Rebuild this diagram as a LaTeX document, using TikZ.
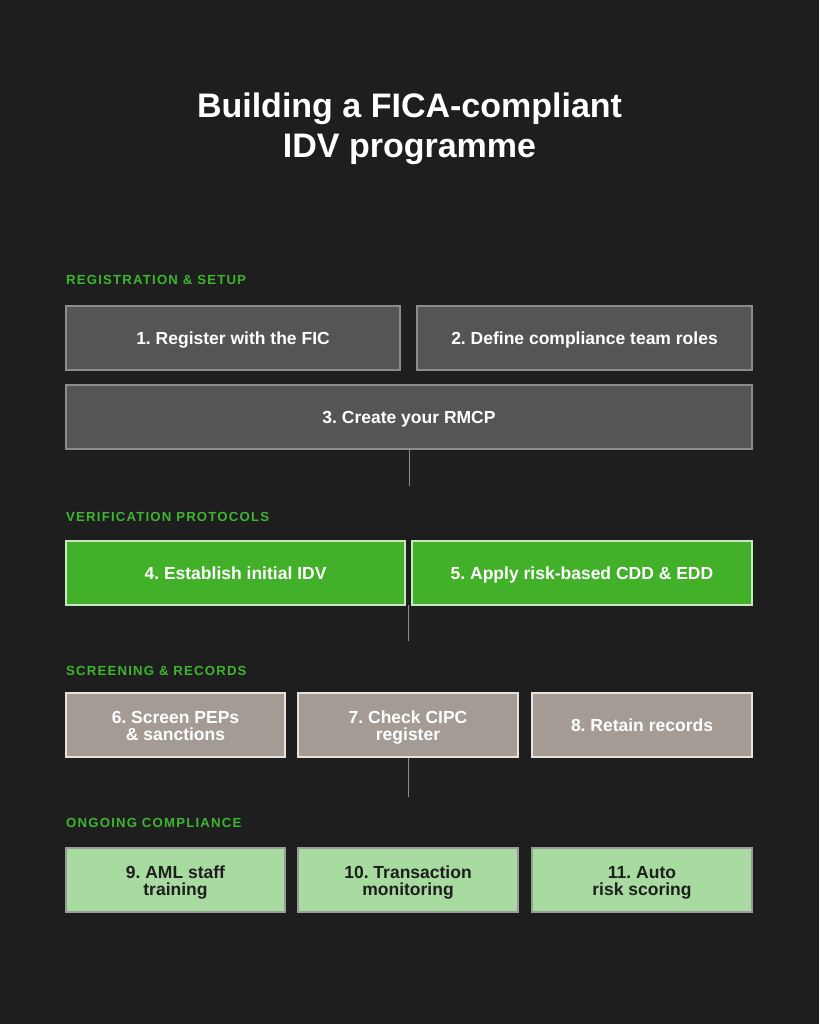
\documentclass[tikz,border=0pt]{standalone}
\usepackage{fontspec}
\setmainfont{Liberation Sans}
\usetikzlibrary{positioning}
\frenchspacing
\definecolor{bg}{HTML}{1E1E1E}
\definecolor{grayfill}{HTML}{555555}
\definecolor{grayline}{HTML}{8C8C8C}
\definecolor{greenfill}{HTML}{43B02A}
\definecolor{greenline}{HTML}{C8E6C0}
\definecolor{beigefill}{HTML}{A39B94}
\definecolor{beigeline}{HTML}{E6E2DE}
\definecolor{lgfill}{HTML}{A8DBA0}
\definecolor{lgline}{HTML}{9A9A9A}
\definecolor{labgreen}{HTML}{3DB52E}
\definecolor{darktext}{HTML}{1E1E1E}
\tikzset{
  box/.style={draw, line width=1.2pt, inner sep=0pt,
    font=\fontsize{17.5}{16.5}\selectfont\bfseries, text height=12.5pt, text depth=0pt},
  twoline/.style={text depth=16.5pt},
  graybox/.style={box, fill=grayfill, draw=grayline, text=white},
  greenbox/.style={box, fill=greenfill, draw=greenline, text=white},
  beigebox/.style={box, fill=beigefill, draw=beigeline, text=white},
  lgbox/.style={box, fill=lgfill, draw=lgline, text=darktext},
  seclabel/.style={anchor=west, inner sep=0pt, text=labgreen,
    font=\fontsize{13.2}{14}\selectfont\bfseries\addfontfeatures{LetterSpace=9}},
  conn/.style={draw=grayline, line width=1pt},
}
\newcommand{\bx}[6]{%
  \node[#2, minimum width=#5-#3, minimum height=64] (#1) at ({(#3+#5)/2},{#4+32}) {#6};}
\newcommand{\tl}[2]{\begin{tabular}[t]{@{}c@{}}#1\\#2\end{tabular}}
\begin{document}
\begin{tikzpicture}[x=1pt,y=-1pt]
\fill[bg] (0,0) rectangle (819,1024);
\useasboundingbox (0,0) rectangle (819,1024);

\node[text=white, align=center, font=\fontsize{34}{40}\selectfont\bfseries] (title) at (409.5,129)
  {Building a FICA-compliant\\IDV programme};

\node[seclabel] (l1) at (66,280) {REGISTRATION \& SETUP};
\bx{b1}{graybox}{66}{306}{400}{1. Register with the FIC}
\bx{b2}{graybox}{417}{306}{752}{2. Define compliance team roles}
\bx{b3}{graybox}{66}{385}{752}{3. Create your RMCP}
\coordinate (c1) at (409,486);
\draw[conn] (b3.south) -- (c1);

\node[seclabel] (l2) at (66,517) {VERIFICATION PROTOCOLS};
\bx{b4}{greenbox}{66}{541}{405}{4. Establish initial IDV}
\bx{b5}{greenbox}{412}{541}{752}{5. Apply risk-based CDD \& EDD}
\coordinate (c2a) at (408.5,605);
\coordinate (c2) at (408.5,641);
\draw[conn] (c2a) -- (c2);

\node[seclabel] (l3) at (66,671) {SCREENING \& RECORDS};
\bx{b6}{beigebox,twoline}{66}{693}{285}{\tl{6. Screen PEPs}{\& sanctions}}
\bx{b7}{beigebox,twoline}{298}{693}{518}{\tl{7. Check CIPC}{register}}
\bx{b8}{beigebox}{532}{693}{752}{8. Retain records}
\coordinate (c3) at (408,797);
\draw[conn] (b7.south) -- (c3);

\node[seclabel] (l4) at (66,823) {ONGOING COMPLIANCE};
\bx{b9}{lgbox,twoline}{66}{848}{285}{\tl{9. AML staff}{training}}
\bx{b10}{lgbox,twoline}{298}{848}{518}{\tl{10. Transaction}{monitoring}}
\bx{b11}{lgbox,twoline}{532}{848}{752}{\tl{11. Auto}{risk scoring}}
\end{tikzpicture}
\end{document}
